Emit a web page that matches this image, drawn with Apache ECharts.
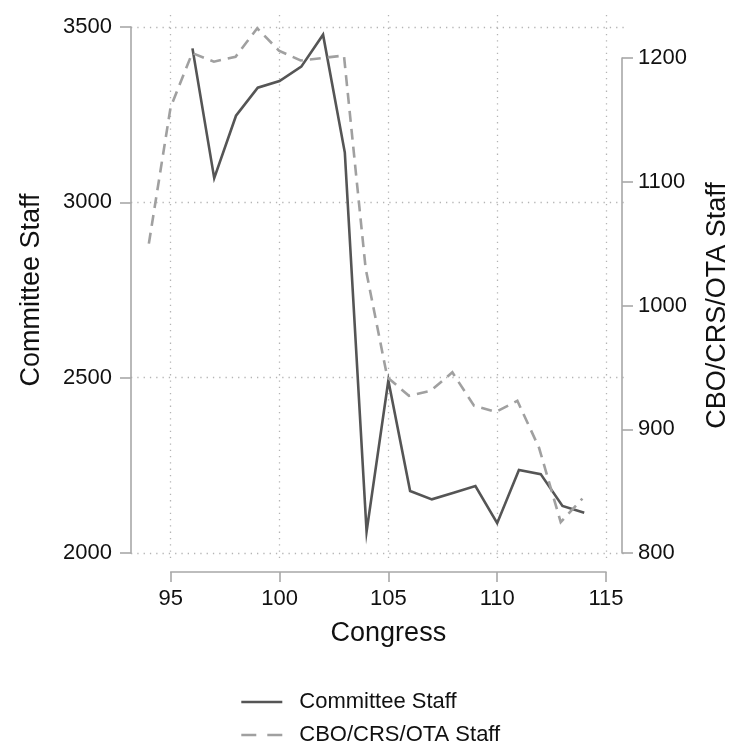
<!DOCTYPE html>
<html>
<head>
<meta charset="utf-8">
<script src="https://cdn.jsdelivr.net/npm/echarts@6/dist/echarts.min.js"></script>
<style>html,body{margin:0;padding:0;background:#fff;}#chart{width:739px;height:746px;}</style>
</head>
<body>
<div id="chart"></div>
<script>
// Congress numbers
const congress = [94, 95, 96, 97, 98, 99, 100, 101, 102, 103, 104, 105, 106, 107, 108, 109, 110, 111, 112, 113, 114];
// Committee Staff (left axis); null where not available
const committeeStaff = [null, null, 3439, 3069, 3247, 3327, 3346, 3387, 3478, 3142, 2061, 2492, 2177, 2153, 2172, 2191, 2085, 2237, 2225, 2134, 2115];
// CBO/CRS/OTA Staff (right axis)
const supportStaff = [1050, 1160, 1204, 1197, 1201, 1224, 1206, 1198, 1200, 1202, 1030, 942, 927, 931, 946, 919, 914, 923, 885, 825, 844];
const leftTicks = [2000, 2500, 3000, 3500];
const rightTicks = [800, 900, 1000, 1100, 1200];
const xTicks = [95, 100, 105, 110, 115];
const seriesNames = ['Committee Staff', 'CBO/CRS/OTA Staff'];

const FONT = '"Liberation Sans", Arial, Helvetica, sans-serif';
const axisGrey = '#a8a8a8';
const gridDash = { color: '#b4b4b4', width: 1.3, type: [1.3, 5] };
const plain = v => String(v);

const chart = echarts.init(document.getElementById('chart'), null, { renderer: 'canvas' });

const X_MIN = 93.176, X_MAX = 115.827;

function legendFor(name, top, lineType) {
  return {
    orient: 'vertical',
    left: 240,
    top: top,
    padding: 0,
    itemWidth: 41,
    itemHeight: 14,
    itemStyle: { opacity: 0 },
    lineStyle: { type: lineType, width: 2.6 },
    textStyle: { fontFamily: FONT, fontSize: 22, color: '#111', padding: [0, 0, 0, 12] },
    data: [name]
  };
}

chart.setOption({
  animation: false,
  backgroundColor: '#ffffff',
  textStyle: { fontFamily: FONT },
  grid: [
    { left: 131, right: 115, top: 27, bottom: 193 },
    { left: 131, right: 115, top: 58, bottom: 193 },
    { left: 170.7, right: 133, top: 15, bottom: 183 },
    { left: 170.7, right: 133, top: 15, bottom: 174 }
  ],
  legend: [legendFor(seriesNames[0], 691, 'solid'), legendFor(seriesNames[1], 724, [15, 11])],
  xAxis: [
    { gridIndex: 0, type: 'value', min: X_MIN, max: X_MAX, show: false },
    { gridIndex: 1, type: 'value', min: X_MIN, max: X_MAX, show: false },
    { gridIndex: 2, type: 'value', min: xTicks[0], max: xTicks[xTicks.length - 1], interval: 5,
      axisLine: { show: false }, axisTick: { show: false }, axisLabel: { show: false },
      splitLine: { show: true, lineStyle: gridDash } },
    { gridIndex: 3, type: 'value', min: xTicks[0], max: xTicks[xTicks.length - 1], interval: 5,
      axisLine: { show: true, lineStyle: { color: axisGrey, width: 1.6 } },
      axisTick: { show: true, inside: false, length: 10, lineStyle: { color: axisGrey, width: 1.6 } },
      axisLabel: { show: true, fontSize: 22, color: '#111', margin: 16, fontFamily: FONT, formatter: plain },
      splitLine: { show: false },
      name: 'Congress', nameLocation: 'middle', nameGap: 48,
      nameTextStyle: { fontSize: 27, color: '#111', fontFamily: FONT } }
  ],
  yAxis: [
    { gridIndex: 0, type: 'value', min: leftTicks[0], max: leftTicks[leftTicks.length - 1], interval: 500, position: 'left',
      axisLine: { show: true, lineStyle: { color: axisGrey, width: 1.6 } },
      axisTick: { show: true, length: 11, lineStyle: { color: axisGrey, width: 1.6 } },
      axisLabel: { fontSize: 22, color: '#111', margin: 19, fontFamily: FONT, formatter: plain },
      splitLine: { show: true, lineStyle: gridDash },
      name: seriesNames[0], nameLocation: 'middle', nameGap: 86, nameRotate: 90,
      nameTextStyle: { fontSize: 27, color: '#111', fontFamily: FONT } },
    { gridIndex: 1, type: 'value', min: rightTicks[0], max: rightTicks[rightTicks.length - 1], interval: 100, position: 'right',
      axisLine: { show: true, lineStyle: { color: axisGrey, width: 1.6 } },
      axisTick: { show: true, length: 11, lineStyle: { color: axisGrey, width: 1.6 } },
      axisLabel: { fontSize: 22, color: '#111', margin: 16, fontFamily: FONT, formatter: plain },
      splitLine: { show: false },
      name: seriesNames[1], nameLocation: 'middle', nameGap: 82, nameRotate: 90,
      nameTextStyle: { fontSize: 27, color: '#111', fontFamily: FONT } },
    { gridIndex: 2, type: 'value', min: 0, max: 1, show: false },
    { gridIndex: 3, type: 'value', min: 0, max: 1, show: false }
  ],
  series: [
    { name: seriesNames[0], type: 'line', xAxisIndex: 0, yAxisIndex: 0,
      data: congress.map((c, i) => [c, committeeStaff[i]]),
      showSymbol: false, symbol: 'none', connectNulls: false, clip: false,
      lineStyle: { color: '#555555', width: 2.6, join: 'miter' },
      itemStyle: { color: '#555555' } },
    { name: seriesNames[1], type: 'line', xAxisIndex: 1, yAxisIndex: 1,
      data: congress.map((c, i) => [c, supportStaff[i]]),
      showSymbol: false, symbol: 'none', clip: false,
      lineStyle: { color: '#a0a0a0', width: 2.6, type: [11, 7], join: 'miter' },
      itemStyle: { color: '#a0a0a0' } }
  ]
});
</script>
</body>
</html>
